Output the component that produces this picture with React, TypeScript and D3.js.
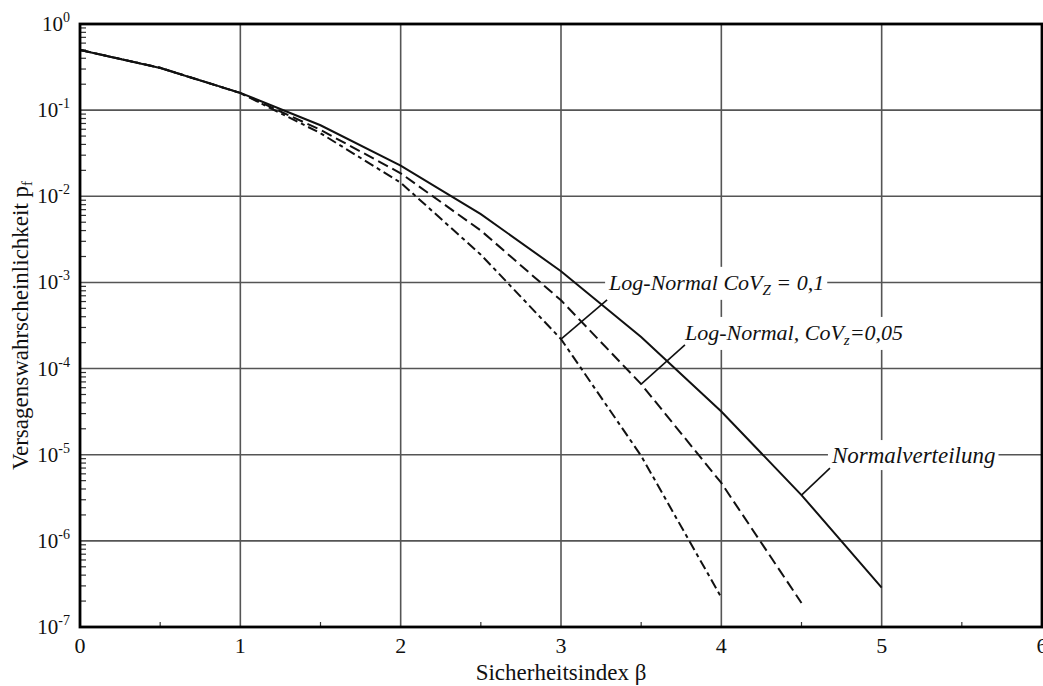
import React, { useEffect, useRef } from "react";
import * as d3 from "d3";

// Sicherheitsindex beta and failure probabilities
const betaValues = [0, 0.5, 1, 1.5, 2, 2.5, 3, 3.5, 4, 4.5, 5];
const pfNormal = [0.5, 0.3085, 0.1587, 0.0668, 0.02275, 0.00621, 0.00135, 2.33e-4, 3.17e-5, 3.4e-6, 2.87e-7];
const pfLogNormal005 = [0.5, 0.31, 0.158, 0.059, 0.0185, 0.004, 6.2e-4, 6.6e-5, 4.7e-6, 1.9e-7];
const pfLogNormal01 = [0.5, 0.31, 0.158, 0.054, 0.0144, 0.0021, 2.2e-4, 9.7e-6, 2.2e-7];

const xTicks = [0, 1, 2, 3, 4, 5, 6];
const yExponents = [0, -1, -2, -3, -4, -5, -6, -7];

const W = 1043;
const H = 686;
const margin = { top: 24, right: 1, bottom: 59, left: 80 };
const FONT = "Liberation Serif, DejaVu Serif, serif";

const series = [
  { key: "normal", values: pfNormal, dash: null },
  { key: "ln005", values: pfLogNormal005, dash: "11,5" },
  { key: "ln01", values: pfLogNormal01, dash: "10,4,4,4" },
];

// annotation: text parts [text, isSub], label position (beta, pf for baseline), leader from point index
const annotations = [
  { key: "ln01", parts: [["Log-Normal CoV", false], ["Z", true], [" = 0,1", false]], beta: 3.3, pf: 8.2e-4, at: 6, dx: -2, dy: 10, size: 22 },
  { key: "ln005", parts: [["Log-Normal, CoV", false], ["z", true], ["=0,05", false]], beta: 3.773, pf: 2.15e-4, at: 7, dx: 0, dy: 5, size: 22 },
  { key: "normal", parts: [["Normalverteilung", false]], beta: 4.69, pf: 8.0e-6, at: 9, dx: -2, dy: 5, size: 23 },
];

const App = () => {
  const svgRef = useRef<SVGSVGElement>(null);

  useEffect(() => {
    const svg = d3.select(svgRef.current);
    svg.selectAll("*").remove();

    const x = d3.scaleLinear().domain([0, 6]).range([margin.left, W - margin.right]);
    const y = d3.scaleLog().domain([1, 1e-7]).range([margin.top, H - margin.bottom]);

    const [x0, x1] = x.range();
    const [y0, y1] = y.range();

    // grid
    const grid = svg.append("g").attr("stroke", "#555").attr("stroke-width", 1.6);
    xTicks.slice(1, -1).forEach((t) => {
      grid.append("line").attr("x1", x(t)).attr("x2", x(t)).attr("y1", y0).attr("y2", y1);
    });
    yExponents.slice(1, -1).forEach((e) => {
      grid.append("line").attr("x1", x0).attr("x2", x1).attr("y1", y(10 ** e)).attr("y2", y(10 ** e));
    });

    // minor ticks
    const minor = svg.append("g").attr("stroke", "#333").attr("stroke-width", 1.2);
    yExponents.slice(1).forEach((e) => {
      for (let m = 2; m <= 9; m++) {
        const yy = y(m * 10 ** e);
        minor.append("line").attr("x1", x0).attr("x2", x0 + 6).attr("y1", yy).attr("y2", yy);
      }
    });
    d3.range(0.5, 6, 1).forEach((t) => {
      minor.append("line").attr("x1", x(t)).attr("x2", x(t)).attr("y1", y1).attr("y2", y1 - 5);
    });

    // curves
    const line = d3
      .line<[number, number]>()
      .x((d) => x(d[0]))
      .y((d) => y(d[1]));

    series.forEach((s) => {
      const pts = s.values.map((v, i) => [betaValues[i], v] as [number, number]);
      svg
        .append("path")
        .attr("d", line(pts))
        .attr("fill", "none")
        .attr("stroke", "#111")
        .attr("stroke-width", 2)
        .attr("stroke-dasharray", s.dash);
    });

    // annotations
    annotations.forEach((a) => {
      const s = series.find((d) => d.key === a.key)!;
      const tx = x(a.beta);
      const ty = y(a.pf);
      const g = svg.append("g");
      const text = g
        .append("text")
        .attr("x", tx)
        .attr("y", ty)
        .attr("font-family", FONT)
        .attr("font-style", "italic")
        .attr("font-size", a.size)
        .attr("fill", "#111");
      a.parts.forEach(([t, sub], i) => {
        if (sub) {
          text.append("tspan").attr("font-size", 15).attr("dy", 5).text(t as string);
        } else {
          const ts = text.append("tspan").text(t as string);
          if (i > 0) ts.attr("dy", -5);
        }
      });
      const bb = (text.node() as SVGTextElement).getBBox();
      g.insert("rect", "text")
        .attr("x", bb.x - 3)
        .attr("y", bb.y - 3)
        .attr("width", bb.width + 6)
        .attr("height", bb.height + 5)
        .attr("fill", "#fff");
      g.append("line")
        .attr("x1", x(betaValues[a.at]))
        .attr("y1", y(s.values[a.at]))
        .attr("x2", tx + a.dx)
        .attr("y2", ty + a.dy)
        .attr("stroke", "#111")
        .attr("stroke-width", 1.6);
    });

    // frame
    svg
      .append("rect")
      .attr("x", x0)
      .attr("y", y0)
      .attr("width", x1 - x0)
      .attr("height", y1 - y0)
      .attr("fill", "none")
      .attr("stroke", "#000")
      .attr("stroke-width", 2.8);

    // x tick labels
    svg
      .append("g")
      .selectAll("text")
      .data(xTicks)
      .join("text")
      .attr("x", (d) => x(d))
      .attr("y", y1 + 26)
      .attr("text-anchor", "middle")
      .attr("font-family", FONT)
      .attr("font-size", 22)
      .attr("fill", "#111")
      .text((d) => d);

    // y tick labels
    yExponents.forEach((e) => {
      const t = svg
        .append("text")
        .attr("x", x0 - 10)
        .attr("y", y(10 ** e) + 7)
        .attr("text-anchor", "end")
        .attr("font-family", FONT)
        .attr("font-size", 21)
        .attr("fill", "#111");
      t.append("tspan").text("10");
      t.append("tspan").attr("font-size", 14).attr("dy", -9).text(e);
    });

    // axis titles
    svg
      .append("text")
      .attr("x", (x0 + x1) / 2)
      .attr("y", H - 6)
      .attr("text-anchor", "middle")
      .attr("font-family", FONT)
      .attr("font-size", 23)
      .attr("fill", "#111")
      .text("Sicherheitsindex β");

    const yt = svg
      .append("text")
      .attr("transform", `translate(28,${(y0 + y1) / 2}) rotate(-90)`)
      .attr("text-anchor", "middle")
      .attr("font-family", FONT)
      .attr("font-size", 23)
      .attr("fill", "#111");
    yt.append("tspan").text("Versagenswahrscheinlichkeit p");
    yt.append("tspan").attr("font-size", 15).attr("dy", 4).text("f");
  }, []);

  return (
    <svg
      ref={svgRef}
      width={W}
      height={H}
      style={{ position: "absolute", left: 0, top: 0, background: "#fff" }}
    />
  );
};

export default App;
